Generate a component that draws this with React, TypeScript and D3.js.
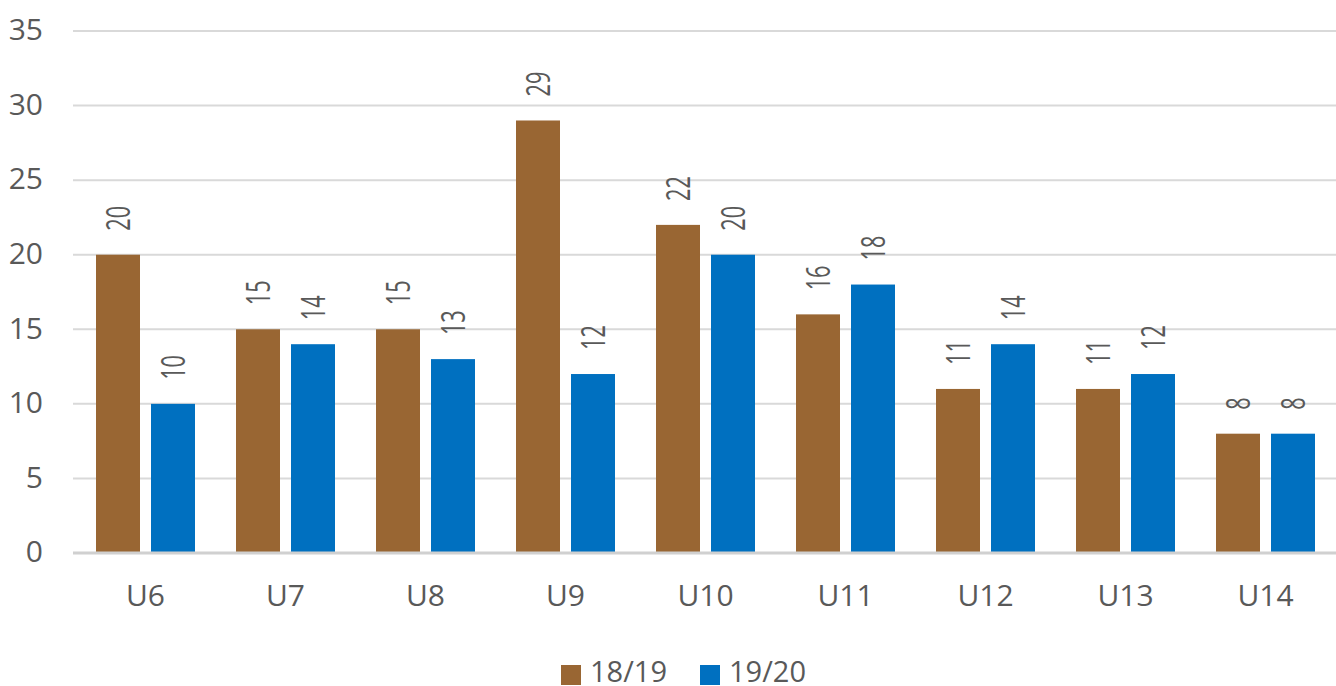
import React from "react";
import * as d3 from "d3";

const categories = ["U6", "U7", "U8", "U9", "U10", "U11", "U12", "U13", "U14"];
const seriesNames = ["18/19", "19/20"];
const values1819 = [20, 15, 15, 29, 22, 16, 11, 11, 8];
const values1920 = [10, 14, 13, 12, 20, 18, 14, 12, 8];
const yTicks = [0, 5, 10, 15, 20, 25, 30, 35];
const colors = ["#996633", "#0070C0"];

const W = 1336;
const H = 686;
const FONT = "'Open Sans', 'Liberation Sans', sans-serif";
const TXT = "#595959";

export default function App() {
  const series = [values1819, values1920];
  const y = d3.scaleLinear().domain([0, 35]).range([553, 31]);
  const x0 = d3.scaleBand<string>().domain(categories).range([73, 1333]).padding(0);
  const x1 = d3.scaleBand<string>().domain(seriesNames).range([23, 122]).paddingInner(0.2).paddingOuter(0);
  const groupCenter = (23 + 122) / 2;

  return (
    <div style={{ position: "absolute", left: 0, top: 0 }}>
      <svg width={W} height={H} style={{ display: "block", background: "#fff" }}>
        {yTicks.map((t) => (
          <g key={t}>
            {t !== 0 && (
              <line x1={73} x2={W} y1={y(t)} y2={y(t)} stroke="#d9d9d9" strokeWidth={2} />
            )}
            <text
              x={43}
              y={y(t) - 1.5}
              dy="0.36em"
              textAnchor="end"
              fontFamily={FONT}
              fontSize={30}
              fill={TXT}
            >
              {t}
            </text>
          </g>
        ))}
        {categories.map((c, ci) => (
          <g key={c} transform={`translate(${x0(c)},0)`}>
            {series.map((vals, si) => {
              const bx = x1(seriesNames[si])!;
              const bw = x1.bandwidth();
              const v = vals[ci];
              const cx = bx + bw / 2;
              const ly = y(v) - 24;
              return (
                <g key={si}>
                  <rect x={bx} y={y(v)} width={bw} height={y(0) - y(v)} fill={colors[si]} />
                  <text
                    transform={`translate(${cx},${ly}) rotate(-90) scale(0.66,1)`}
                    dy="0.36em"
                    textAnchor="start"
                    fontFamily={FONT}
                    fontSize={33}
                    fill={TXT}
                  >
                    {v}
                  </text>
                </g>
              );
            })}
            <text
              x={groupCenter}
              y={595}
              dy="0.36em"
              textAnchor="middle"
              fontFamily={FONT}
              fontSize={30}
              fill={TXT}
            >
              {c}
            </text>
          </g>
        ))}
        <line x1={73} x2={W} y1={y(0)} y2={y(0)} stroke="#d0d0d0" strokeWidth={3} />
        {seriesNames.map((s, i) => {
          const lx = i === 0 ? 561 : 700;
          return (
            <g key={s}>
              <rect x={lx} y={665} width={20} height={20} fill={colors[i]} />
              <text x={lx + 29} y={672} dy="0.36em" fontFamily={FONT} fontSize={29} fill={TXT}>
                {s}
              </text>
            </g>
          );
        })}
      </svg>
    </div>
  );
}
